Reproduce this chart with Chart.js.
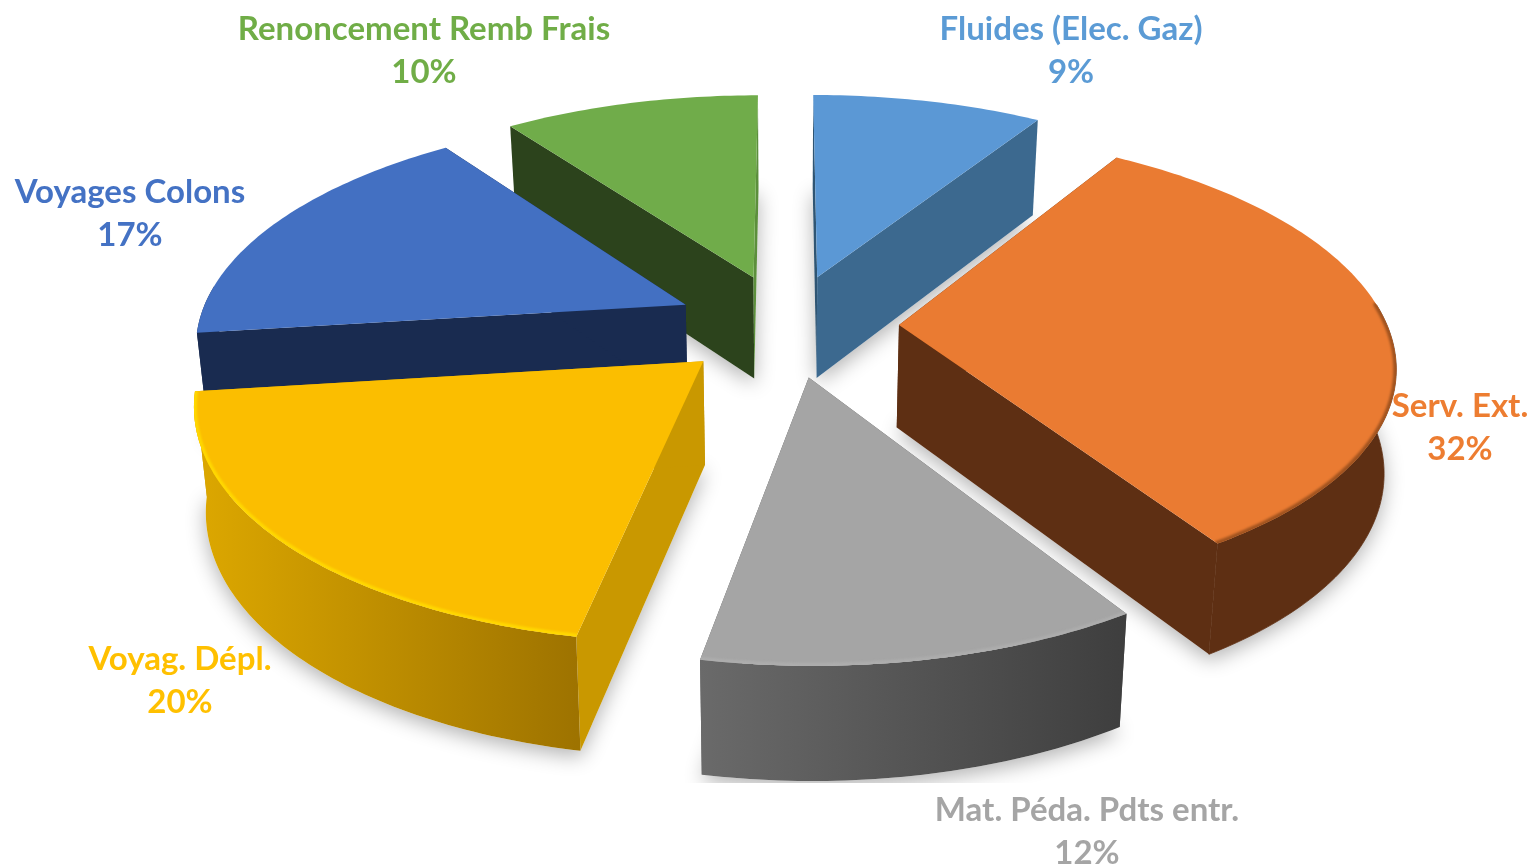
<!DOCTYPE html>
<html><head><meta charset="utf-8">
<style>html,body{margin:0;padding:0;background:#fff;overflow:hidden}canvas{display:block}</style>
<script src="https://cdn.jsdelivr.net/npm/chart.js@4/dist/chart.umd.min.js"></script>
</head><body>
<canvas id="c" width="1531" height="868"></canvas>
<script>
const categories = ['Fluides (Elec. Gaz)','Serv. Ext.','Mat. Péda. Pdts entr.','Voyag. Dépl.','Voyages Colons','Renoncement Remb Frais'];
const values = [9,32,12,20,17,10];
const topColors = ['#5B98D5','#EA7B32','#A5A5A5','#FBBE00','#4370C2','#70AC4A'];
const labelColors = ['#5B9BD5','#ED7D31','#A5A5A5','#FFC000','#4472C4','#70AD47'];
const startEdgeColors = ['#2F5573','#5E2F13','#5A5A5A','#C99800','#192B50','#2C431C'];
const endEdgeColors = ['#3C698F','#5E2F13','#5A5A5A','#C99800','#192B50','#5C8F3C'];
const wallStart = ['#3C698F','#5E2F13','#6A6A6A','#DDA800','#192B50','#2C431C'];
const wallEnd = ['#3C698F','#5E2F13','#3E3E3E','#9E7300','#192B50','#2C431C'];
const rimColors = [null,'#A0531F','#ADADAD','#FFD800',null,null];
const paintOrder = [0,5,4,1,2,3];
// layout of the labels (centre x, y of first line)
const labelPlaces = [[1071,29],[1460,406],[1087,810],[180,659],[130,192],[424,29]];
const view = {cx:787, cy:325, s:488, sk:224.6, p:0.157, fx:0.98, fy:1.037, depth:102.6};

const project = (u,v)=>{const w=1-view.p*v;return [view.cx+view.s*u/w, view.cy+view.sk*v/w];};
const lower = ([x,y])=>[view.cx+(x-view.cx)*view.fx, view.cy+view.depth+(y-view.cy)*view.fy];

function sliceGeom(arc){
  const {startAngle:a0,endAngle:a1,outerRadius:R}=arc.getProps(['startAngle','endAngle','outerRadius'],true);
  const mid=(a0+a1)/2, off=(arc.options.offset||0)/2/R;
  const ou=Math.cos(mid)*off, ov=Math.sin(mid)*off;
  const rim=[], front=[];
  const n=Math.max(8,Math.ceil((a1-a0)*60));
  for(let i=0;i<=n;i++){
    const a=a0+(a1-a0)*i/n, p=project(ou+Math.cos(a),ov+Math.sin(a));
    rim.push(p); if(Math.sin(a)>-0.1) front.push(p);
  }
  return {apex:project(ou,ov),rim,front};
}
function poly(ctx,pts){ctx.beginPath();pts.forEach((p,i)=>i?ctx.lineTo(p[0],p[1]):ctx.moveTo(p[0],p[1]));ctx.closePath();}

const pie3d={id:'pie3d',
  beforeDatasetsDraw(chart){
    const ctx=chart.ctx, arcs=chart.getDatasetMeta(0).data;
    const geo=arcs.map(sliceGeom);
    ctx.save();
    ctx.beginPath();ctx.rect(0,178,chart.width,605);ctx.clip();
    paintOrder.forEach(i=>{
      const g=geo[i];
      ctx.save();
      ctx.shadowColor='rgba(0,0,0,0.30)';ctx.shadowBlur=20;ctx.shadowOffsetX=0;ctx.shadowOffsetY=6;
      ctx.fillStyle='#fff';
      poly(ctx,[lower(g.apex),...g.rim.map(lower)]);ctx.fill();
      ctx.restore();
    });
    ctx.restore();
    paintOrder.forEach(i=>{
      const g=geo[i], r=g.rim, rb=r.map(lower), ap=g.apex, apb=lower(ap), f=g.front;
      ctx.lineWidth=0.8;ctx.lineJoin='round';
      ctx.fillStyle=startEdgeColors[i];
      poly(ctx,[ap,r[0],rb[0],apb]);ctx.fill();
      ctx.fillStyle=endEdgeColors[i];
      poly(ctx,[ap,r[r.length-1],rb[rb.length-1],apb]);ctx.fill();
      if(f.length>1){
        const xs=r.map(p=>p[0]);
        const grad=ctx.createLinearGradient(Math.min(...xs),0,Math.max(...xs),0);
        grad.addColorStop(0,wallStart[i]);grad.addColorStop(1,wallEnd[i]);
        ctx.fillStyle=ctx.strokeStyle=grad;
        poly(ctx,[...f,...f.map(lower).reverse()]);ctx.fill();
        if(wallStart[i]===wallEnd[i] && f.length>r.length/2) ctx.stroke();
      }
      ctx.fillStyle=arcs[i].options.backgroundColor;
      poly(ctx,[ap,...r]);ctx.fill();
      if(rimColors[i]){
        ctx.save();
        poly(ctx,[ap,...r]);ctx.clip();
        ctx.filter='blur(0.8px)';
        ctx.strokeStyle=rimColors[i];ctx.lineWidth=6;ctx.lineJoin='round';ctx.lineCap='round';
        ctx.beginPath();f.forEach((p,k)=>k?ctx.lineTo(p[0],p[1]):ctx.moveTo(p[0],p[1]));ctx.stroke();
        ctx.restore();
      }
    });
    ctx.save();
    ctx.font='700 33px Lato';ctx.textAlign='center';ctx.textBaseline='middle';
    categories.forEach((c,i)=>{
      const [x,y]=labelPlaces[i];
      ctx.fillStyle=labelColors[i];
      ctx.fillText(c,x,y);
      ctx.fillText(values[i]+'%',x,y+43);
    });
    ctx.restore();
    return false;
  }};

new Chart(document.getElementById('c'),{
  type:'pie',
  data:{labels:categories,datasets:[{data:values,backgroundColor:topColors,borderWidth:0,offset:162}]},
  options:{responsive:false,animation:false,rotation:0,layout:{padding:0},
    plugins:{legend:{display:false},tooltip:{enabled:false}}},
  plugins:[pie3d]
});
</script>
</body></html>
